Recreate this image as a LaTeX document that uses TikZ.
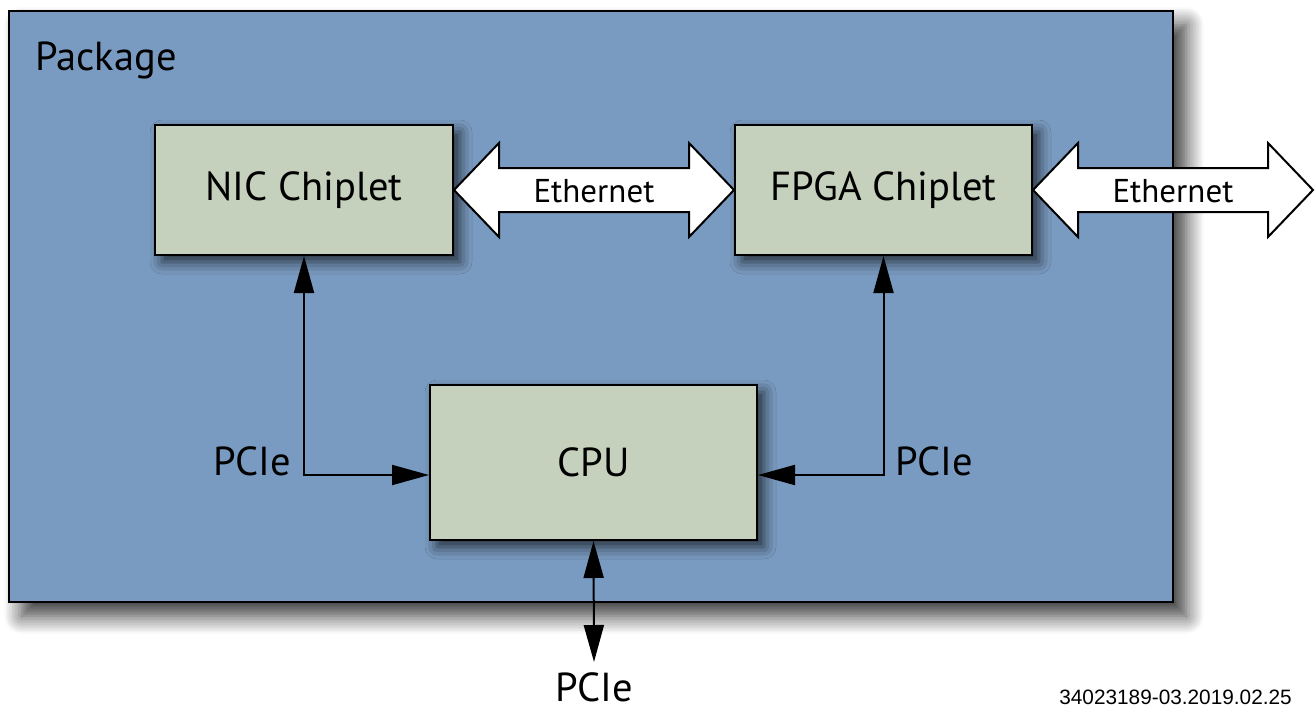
\documentclass[tikz,border=0pt]{standalone}
\usepackage{fontspec}
\setmainfont{PT Sans}
\newfontfamily\stampfont{Liberation Sans}
\usetikzlibrary{shadows.blur,arrows.meta,calc}
\definecolor{pkgblue}{RGB}{122,155,193}
\definecolor{chipgreen}{RGB}{197,209,189}
\begin{document}
\begin{tikzpicture}[x=1pt,y=-1pt,
  pkg/.style={draw=black,line width=2pt,fill=pkgblue,inner sep=0pt,
    blur shadow={shadow xshift=13pt,shadow yshift=-14pt,shadow blur radius=18pt,shadow blur steps=12,shadow opacity=80}},
  chip/.style={draw=black,line width=2pt,fill=chipgreen,inner sep=0pt,
    font=\fontsize{40.5}{42}\selectfont,
    blur shadow={shadow xshift=7pt,shadow yshift=-7pt,shadow blur radius=12pt,shadow opacity=70}},
  eth/.style={draw=black,line width=2pt,fill=white,line join=miter},
  ethlabel/.style={font=\fontsize{33}{35}\selectfont,inner sep=0pt},
  lbl/.style={font=\fontsize{40.5}{42}\selectfont,inner sep=0pt},
  pcie/.style={draw=black,line width=2pt,{Triangle[length=37pt,width=20pt]}-{Triangle[length=37pt,width=20pt]}},
  stamp/.style={font=\stampfont\fontsize{20.8}{22}\selectfont,inner sep=0pt}
]
\useasboundingbox (0,0) rectangle (1315,707);

% package
\node[pkg,minimum width=1164pt,minimum height=591pt] (pkg) at (591,306.5) {};
\node[lbl,anchor=base west] (pkglabel) at (35,70) {Package};

% chiplets
\node[chip,minimum width=298pt,minimum height=130pt] (nic) at (304,190) {NIC Chiplet};
\node[chip,minimum width=297pt,minimum height=130pt] (fpga) at (883.5,190) {FPGA Chiplet};
\node[chip,minimum width=327pt,minimum height=155pt] (cpu) at (593.5,462.5) {CPU};

% Ethernet between chiplets
\draw[eth] (nic.east) -- ++(45,-47) -- ++(0,25) -- ($(fpga.west)+(-45,-22)$) -- ++(0,-25)
  -- (fpga.west) -- ++(-45,47) -- ++(0,-25) -- ($(nic.east)+(45,22)$) -- ++(0,25) -- cycle;
\node[ethlabel] (eth1) at ($(nic.east)!0.5!(fpga.west)+(0,1)$) {Ethernet};

% Ethernet out
\coordinate (ethout) at (1313,190);
\draw[eth] (fpga.east) -- ++(45,-47) -- ++(0,25) -- ($(ethout)+(-45,-22)$) -- ++(0,-25)
  -- (ethout) -- ++(-45,47) -- ++(0,-25) -- ($(fpga.east)+(45,22)$) -- ++(0,25) -- cycle;
\node[ethlabel] (eth2) at ($(fpga.east)!0.5!(ethout)+(0,1)$) {Ethernet};

% PCIe links
\coordinate (cpuL) at ($(cpu.west)+(0,12.5)$);
\coordinate (cpuR) at ($(cpu.east)+(0,12.5)$);
\draw[pcie] (nic.south) |- (cpuL);
\draw[pcie] (fpga.south) |- (cpuR);
\node[lbl,anchor=base east] (pcieL) at (291,475) {PCIe};
\node[lbl,anchor=base west] (pcieR) at (895,475) {PCIe};

\coordinate (pout) at (594,662);
\draw[pcie] (cpu.south) -- (pout);
\node[lbl,anchor=base,text depth=0pt] (pcieB) at (594,701) {PCIe};

\node[stamp,anchor=base east] (stamp) at (1292,704) {34023189-03.2019.02.25};
\end{tikzpicture}
\end{document}
